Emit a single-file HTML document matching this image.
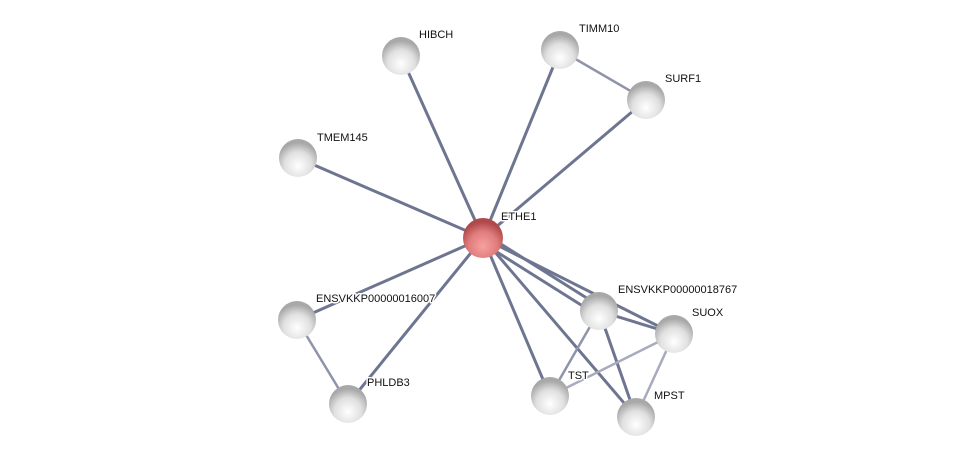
<!DOCTYPE html>
<html><head><style>body{margin:0;background:#fff}svg{display:block}text{font-family:"Liberation Sans",sans-serif;font-size:11px;fill:#111;stroke:#fff;stroke-width:3px;paint-order:stroke;stroke-linejoin:round}</style></head>
<body>
<svg width="976" height="462" viewBox="0 0 976 462">
<defs>
<radialGradient id="g" cx="50%" cy="70%" r="60%">
<stop offset="0" stop-color="#ffffff"/><stop offset="0.6" stop-color="#e0e0e0"/><stop offset="1" stop-color="#a8a8a8"/></radialGradient>
<radialGradient id="r" cx="50%" cy="70%" r="60%">
<stop offset="0" stop-color="#f7a0a0"/><stop offset="0.6" stop-color="#e07c7c"/><stop offset="1" stop-color="#b04a4a"/></radialGradient>
</defs>
<g stroke="#6e7590" stroke-width="3" stroke-linecap="round">
<line x1="483" y1="238" x2="401" y2="56"/>
<line x1="483" y1="238" x2="560" y2="50"/>
<line x1="483" y1="238" x2="646" y2="100"/>
<line x1="483" y1="238" x2="298" y2="158"/>
<line x1="483" y1="238" x2="297" y2="320"/>
<line x1="483" y1="238" x2="348" y2="404"/>
<line x1="481" y1="242" x2="597" y2="315"/>
<line x1="485" y1="234" x2="601" y2="307"/>
<line x1="483" y1="238" x2="674" y2="334"/>
<line x1="483" y1="238" x2="550" y2="396"/>
<line x1="483" y1="238" x2="636" y2="417"/>
<line x1="599" y1="311" x2="674" y2="334"/>
<line x1="599" y1="311" x2="636" y2="417"/>
</g>
<g stroke="#8f94aa" stroke-width="2.5">
<line x1="560" y1="50" x2="646" y2="100"/>
<line x1="297" y1="320" x2="348" y2="404"/>
<line x1="599" y1="311" x2="550" y2="396"/>
<line x1="674" y1="334" x2="550" y2="396" stroke="#a7abbd"/>
<line x1="674" y1="334" x2="636" y2="417" stroke="#a7abbd"/>
</g>
<g>
<circle cx="401" cy="56" r="19" fill="url(#g)"/>
<circle cx="560" cy="50" r="19" fill="url(#g)"/>
<circle cx="646" cy="100" r="19" fill="url(#g)"/>
<circle cx="298" cy="158" r="19" fill="url(#g)"/>
<circle cx="297" cy="320" r="19" fill="url(#g)"/>
<circle cx="348" cy="404" r="19" fill="url(#g)"/>
<circle cx="599" cy="311" r="19" fill="url(#g)"/>
<circle cx="674" cy="334" r="19" fill="url(#g)"/>
<circle cx="550" cy="396" r="19" fill="url(#g)"/>
<circle cx="636" cy="417" r="19" fill="url(#g)"/>
<circle cx="483" cy="238" r="20" fill="url(#r)"/>
</g>
<g>
<text x="419" y="38">HIBCH</text>
<text x="579" y="32">TIMM10</text>
<text x="665" y="82">SURF1</text>
<text x="317" y="141">TMEM145</text>
<text x="501" y="220">ETHE1</text>
<text x="316" y="302">ENSVKKP00000016007</text>
<text x="367" y="386">PHLDB3</text>
<text x="618" y="293">ENSVKKP00000018767</text>
<text x="692" y="316">SUOX</text>
<text x="568" y="379">TST</text>
<text x="654" y="399">MPST</text>
</g>
</svg>
</body></html>
